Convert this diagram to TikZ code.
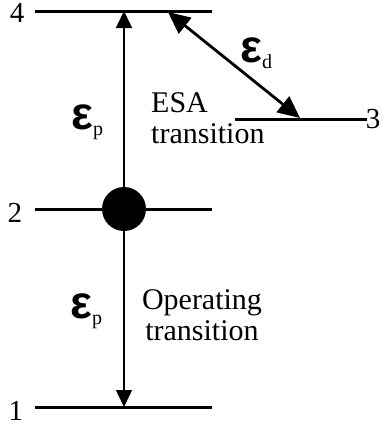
\documentclass[tikz,border=0pt]{standalone}
\usepackage{fontspec}
\setmainfont{Liberation Serif}
\newfontfamily\epsfont{Liberation Sans}
\usetikzlibrary{arrows.meta}

\newcommand\epslbl[1]{{\epsfont\bfseries\fontsize{46}{46}\selectfont ε}\raisebox{-6pt}{\fontsize{20}{20}\selectfont #1}}

\begin{document}
\begin{tikzpicture}[
        x=1pt,y=-1pt,
        level/.style={line width=3pt},
        lvl/.style={inner sep=0pt,font=\fontsize{29}{30}\selectfont},
        txt/.style={inner sep=0pt,font=\fontsize{30}{31}\selectfont},
        eps/.style={inner sep=0pt,anchor=base west},
        dot/.style={circle,fill=black,minimum size=44pt,inner sep=0pt},
        pump/.style={-{Triangle[length=17pt,width=16pt]},line width=1.5pt},
        decay/.style={{Triangle[length=22pt,width=20pt]}-{Triangle[length=22pt,width=20pt]},line width=2.8pt}
      ]
        \useasboundingbox (0,0) rectangle (385,429);
        % energy levels
        \coordinate (l4a) at (35,11);  \coordinate (l4b) at (212,11);
        \coordinate (l3a) at (235,119); \coordinate (l3b) at (367,119);
        \coordinate (l2a) at (35,209); \coordinate (l2b) at (212,209);
        \coordinate (l1a) at (35,407); \coordinate (l1b) at (212,407);
        \draw[level] (l4a) -- (l4b);
        \draw[level] (l3a) -- (l3b);
        \draw[level] (l2a) -- (l2b);
        \draw[level] (l1a) -- (l1b);
        \node[lvl,anchor=base] (n4) at (17,22) {4};
        \node[lvl,anchor=base] (n3) at (373,128) {3};
        \node[lvl,anchor=base] (n2) at (15,222) {2};
        \node[lvl,anchor=base] (n1) at (16,420) {1};
        % transitions
        \node[dot] (pop) at (124,209) {};
        \coordinate (p4) at (124,11);
        \coordinate (p1) at (124,407);
        \draw[pump] (pop) -- (p4);
        \draw[pump] (pop) -- (p1);
        \coordinate (d4) at (168,12);
        \coordinate (d3) at (300,118);
        \draw[decay] (d4) -- (d3);
        % labels
        \node[eps] (ep4) at (71,129) {\epslbl{p}};
        \node[eps] (ep2) at (70,318) {\epslbl{p}};
        \node[eps] (ed) at (240,62) {\epslbl{d}};
        \node[txt,anchor=north west,align=left] (esa) at (151,92) {ESA\\transition};
        \node[txt,anchor=north,align=center] (op) at (202,289) {Operating\\transition};
      \end{tikzpicture}
\end{document}
